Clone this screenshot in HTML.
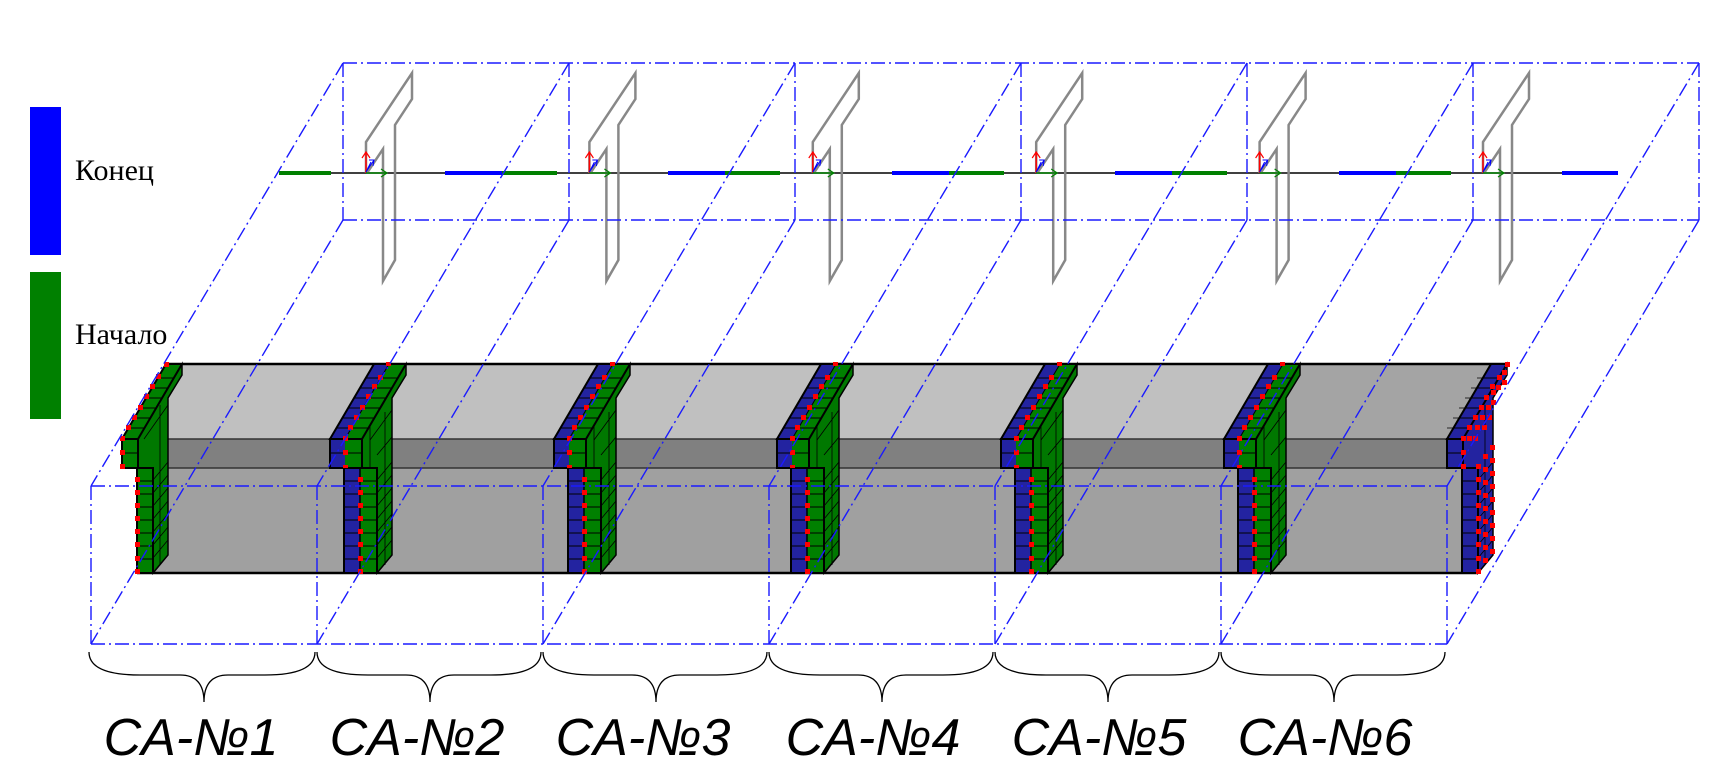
<!DOCTYPE html>
<html><head><meta charset="utf-8"><style>
html,body{margin:0;padding:0;background:#fff;width:1721px;height:765px;overflow:hidden}
svg{display:block}
</style></head><body>
<svg width="1721" height="765" viewBox="0 0 1721 765" xmlns="http://www.w3.org/2000/svg" xmlns:xlink="http://www.w3.org/1999/xlink">
<defs>
 <g id="stM">
  <polygon points="32,439 76,364 76,375 62,398 62,555 47,573 47,468 32,468" fill="#007800" stroke="#000" stroke-width="1.5"/>
  <g stroke="#000" stroke-width="0.8" fill="none">
   <line x1="40" y1="468" x2="40" y2="425"/><line x1="55" y1="565" x2="55" y2="412"/>
   <path d="M47,480 L62,462 M47,493 L62,475 M47,506 L62,488 M47,519 L62,501 M47,532 L62,514 M47,545 L62,527 M47,558 L62,540 M47,455 L62,437 M40,440 L62,410"/>
  </g>
  <polygon points="0,439 15,439 59,364 44,364" fill="#2323a0"/>
  <polygon points="15,439 32,439 76,364 59,364" fill="#008000"/>
  <g stroke="#000" stroke-width="1" fill="none">
   <path d="M6.5,428 L38.5,428 M12.4,418 L44.4,418 M18.2,408 L50.2,408 M24,398 L56,398 M29.9,388 L61.9,388 M35.8,378 L67.8,378"/>
   <line x1="15" y1="439" x2="59" y2="364"/>
  </g>
  <polygon points="0,439 32,439 76,364 44,364" fill="none" stroke="#000" stroke-width="2"/>
  <rect x="0" y="439" width="15" height="29" fill="#2323a0"/>
  <rect x="15" y="439" width="17" height="29" fill="#008000"/>
  <line x1="0" y1="453" x2="32" y2="453" stroke="#000" stroke-width="1"/>
  <rect x="0" y="439" width="32" height="29" fill="none" stroke="#000" stroke-width="2"/>
  <rect x="14" y="468" width="16" height="105" fill="#2323a0"/>
  <rect x="30" y="468" width="17" height="105" fill="#008000"/>
  <path d="M14,481 H47 M14,494 H47 M14,507 H47 M14,520 H47 M14,533 H47 M14,546 H47 M14,559 H47" stroke="#000" stroke-width="1"/>
  <rect x="14" y="468" width="33" height="105" fill="none" stroke="#000" stroke-width="2"/>
  <line x1="30" y1="468" x2="30" y2="573" stroke="#000" stroke-width="1.5"/>
  <g fill="#f00">
   <rect x="28" y="477" width="5" height="5"/><rect x="28" y="490" width="5" height="5"/><rect x="28" y="503" width="5" height="5"/><rect x="28" y="516" width="5" height="5"/><rect x="28" y="529" width="5" height="5"/><rect x="28" y="542" width="5" height="5"/><rect x="28" y="556" width="5" height="5"/><rect x="28" y="569" width="5" height="5"/>
   <rect x="13" y="450" width="5" height="5"/><rect x="13" y="436" width="5" height="5"/><rect x="13" y="465" width="5" height="3"/>
   <rect x="18" y="425" width="5" height="5"/><rect x="24" y="415" width="5" height="5"/><rect x="30" y="405" width="5" height="5"/><rect x="36" y="394" width="5" height="5"/><rect x="42" y="384" width="5" height="5"/><rect x="48" y="375" width="5" height="5"/><rect x="56" y="362" width="5" height="4"/>
  </g>
 </g>
 <!-- first stiffener (single green layer) -->
 <g id="stF">
  <polygon points="16,439 60,364 60,375 46,398 46,555 31,573 31,468 16,468" fill="#007800" stroke="#000" stroke-width="1.5"/>
  <path d="M31,480 L46,462 M31,493 L46,475 M31,506 L46,488 M31,519 L46,501 M31,532 L46,514 M31,545 L46,527 M31,558 L46,540 M38,565 V405 M22,439 L46,405" stroke="#000" stroke-width="0.8" fill="none"/>
  <polygon points="0,439 16,439 60,364 44,364" fill="#008000" stroke="#000" stroke-width="2"/>
  <path d="M6.5,428 L22.5,428 M12.4,418 L28.4,418 M18.2,408 L34.2,408 M24,398 L40,398 M29.9,388 L45.9,388 M35.8,378 L51.8,378" stroke="#000" stroke-width="1"/>
  <rect x="0" y="439" width="16" height="29" fill="#008000" stroke="#000" stroke-width="2"/>
  <line x1="0" y1="453" x2="16" y2="453" stroke="#000"/>
  <rect x="15" y="468" width="16" height="105" fill="#008000"/>
  <path d="M15,481 H31 M15,494 H31 M15,507 H31 M15,520 H31 M15,533 H31 M15,546 H31 M15,559 H31" stroke="#000" stroke-width="1"/>
  <rect x="15" y="468" width="16" height="105" fill="none" stroke="#000" stroke-width="2"/>
  <g fill="#f00">
   <rect x="13" y="477" width="5" height="5"/><rect x="13" y="490" width="5" height="5"/><rect x="13" y="503" width="5" height="5"/><rect x="13" y="516" width="5" height="5"/><rect x="13" y="529" width="5" height="5"/><rect x="13" y="542" width="5" height="5"/><rect x="13" y="556" width="5" height="5"/><rect x="13" y="569" width="5" height="5"/>
   <rect x="-2" y="450" width="5" height="5"/><rect x="-2" y="436" width="5" height="5"/><rect x="-2" y="464" width="5" height="5"/>
   <rect x="4" y="425" width="5" height="5"/><rect x="10" y="415" width="5" height="5"/><rect x="16" y="405" width="5" height="5"/><rect x="22" y="394" width="5" height="5"/><rect x="28" y="384" width="5" height="5"/><rect x="34" y="374" width="5" height="5"/><rect x="42" y="362" width="5" height="5"/>
  </g>
 </g>
 <g id="stL">
  <polygon points="16,439 60,364 60,375 46,398 46,555 31,573 31,468 16,468" fill="#2323a0" stroke="#000" stroke-width="1.5"/>
  <path d="M0,428 L22,428 M6,418 L28,418 M12,408 L34,408 M18,398 L40,398 M24,388 L46,388 M30,378 L52,378 M31,480 L46,462 M31,493 L46,475 M31,506 L46,488 M31,519 L46,501 M31,532 L46,514 M31,545 L46,527 M31,558 L46,540 M38,565 V405" stroke="#000" stroke-width="0.8" fill="none"/>
  <polygon points="0,439 16,439 60,364 44,364" fill="#2323a0" stroke="#000" stroke-width="2"/>
  <path d="M6.5,428 L22.5,428 M12.4,418 L28.4,418 M18.2,408 L34.2,408 M24,398 L40,398 M29.9,388 L45.9,388 M35.8,378 L51.8,378" stroke="#000" stroke-width="1"/>
  <rect x="0" y="439" width="16" height="29" fill="#2323a0" stroke="#000" stroke-width="2"/>
  <line x1="0" y1="453" x2="16" y2="453" stroke="#000"/>
  <rect x="15" y="468" width="16" height="105" fill="#2323a0"/>
  <path d="M15,481 H31 M15,494 H31 M15,507 H31 M15,520 H31 M15,533 H31 M15,546 H31 M15,559 H31" stroke="#000" stroke-width="1"/>
  <rect x="15" y="468" width="16" height="105" fill="none" stroke="#000" stroke-width="2"/>
  <g fill="#f00">
   <rect x="29" y="464" width="5" height="5"/><rect x="29" y="477" width="5" height="5"/><rect x="29" y="490" width="5" height="5"/><rect x="29" y="503" width="5" height="5"/><rect x="29" y="516" width="5" height="5"/><rect x="29" y="529" width="5" height="5"/><rect x="29" y="542" width="5" height="5"/><rect x="29" y="556" width="5" height="5"/><rect x="29" y="569" width="5" height="5"/>
   <rect x="36" y="454" width="5" height="5"/><rect x="36" y="467" width="5" height="5"/><rect x="36" y="480" width="5" height="5"/><rect x="36" y="493" width="5" height="5"/><rect x="36" y="506" width="5" height="5"/><rect x="36" y="519" width="5" height="5"/><rect x="36" y="532" width="5" height="5"/><rect x="36" y="545" width="5" height="5"/><rect x="36" y="558" width="5" height="5"/>
   <rect x="43" y="445" width="5" height="5"/><rect x="43" y="458" width="5" height="5"/><rect x="43" y="471" width="5" height="5"/><rect x="43" y="484" width="5" height="5"/><rect x="43" y="497" width="5" height="5"/><rect x="43" y="510" width="5" height="5"/><rect x="43" y="523" width="5" height="5"/><rect x="43" y="536" width="5" height="5"/><rect x="43" y="549" width="5" height="5"/>
   <rect x="14" y="436" width="5" height="5"/><rect x="14" y="450" width="5" height="5"/><rect x="20" y="436" width="5" height="5"/><rect x="26" y="436" width="5" height="5"/><rect x="14" y="464" width="5" height="5"/>
   <rect x="20" y="425" width="5" height="5"/><rect x="28" y="425" width="5" height="5"/><rect x="35" y="425" width="5" height="5"/>
   <rect x="26" y="415" width="5" height="5"/><rect x="33" y="415" width="5" height="5"/><rect x="40" y="415" width="5" height="5"/>
   <rect x="32" y="405" width="5" height="5"/><rect x="39" y="405" width="5" height="5"/><rect x="44" y="400" width="5" height="5"/>
   <rect x="37" y="395" width="5" height="5"/><rect x="44" y="390" width="5" height="5"/><rect x="49" y="385" width="5" height="5"/>
   <rect x="43" y="384" width="5" height="5"/><rect x="50" y="375" width="5" height="5"/><rect x="55" y="380" width="5" height="5"/><rect x="55" y="370" width="5" height="5"/><rect x="58" y="362" width="5" height="5"/>
  </g>
 </g>
 <g id="prof">
  <polyline points="366,173 366,142 412,73 412,99 395,125 395,260 383,281 383,149 367,173" fill="none" stroke="#888" stroke-width="2.5" stroke-linejoin="miter"/>
  <line x1="366" y1="173" x2="366" y2="153" stroke="#f00" stroke-width="1.5"/>
  <path d="M362,158 L366,152 L370,158" fill="none" stroke="#f00" stroke-width="1.2"/>
  <line x1="366" y1="173" x2="387" y2="173" stroke="#008000" stroke-width="1.5"/>
  <path d="M381,169 L387,173 L381,177" fill="none" stroke="#008000" stroke-width="1.2"/>
  <path d="M366,172 L374,160 M369,160 L374,160 L373,166 M366,172 L371,162" fill="none" stroke="#00f" stroke-width="1"/>
 </g>
</defs>

<rect x="30" y="107" width="31" height="148" fill="#0000ff"/>
<rect x="30" y="272" width="31" height="147" fill="#008000"/>
<text x="75" y="180" font-family="Liberation Serif, serif" font-size="30" fill="#000">Конец</text>
<text x="75" y="344" font-family="Liberation Serif, serif" font-size="30" fill="#000">Начало</text>

<line x1="279" y1="173" x2="1618" y2="173" stroke="#000" stroke-width="1.5"/>
<g stroke-width="4">
 <line x1="279" y1="173" x2="331" y2="173" stroke="#008000"/>
 <line x1="445" y1="173" x2="502" y2="173" stroke="#0000ff"/><line x1="502" y1="173" x2="557" y2="173" stroke="#008000"/>
 <line x1="668" y1="173" x2="725" y2="173" stroke="#0000ff"/><line x1="725" y1="173" x2="780" y2="173" stroke="#008000"/>
 <line x1="892" y1="173" x2="949" y2="173" stroke="#0000ff"/><line x1="949" y1="173" x2="1004" y2="173" stroke="#008000"/>
 <line x1="1115" y1="173" x2="1172" y2="173" stroke="#0000ff"/><line x1="1172" y1="173" x2="1227" y2="173" stroke="#008000"/>
 <line x1="1339" y1="173" x2="1396" y2="173" stroke="#0000ff"/><line x1="1396" y1="173" x2="1451" y2="173" stroke="#008000"/>
 <line x1="1562" y1="173" x2="1618" y2="173" stroke="#0000ff"/>
</g>
<use xlink:href="#prof" x="0"/>
<use xlink:href="#prof" x="223.4"/>
<use xlink:href="#prof" x="446.8"/>
<use xlink:href="#prof" x="670.2"/>
<use xlink:href="#prof" x="893.6"/>
<use xlink:href="#prof" x="1117"/>

<polygon points="167,364 1507,364 1462,439 122,439" fill="#c0c0c0"/>
<polygon points="1268,364 1507,364 1462,439 1224,439" fill="#a4a4a4"/>
<rect x="122" y="439" width="1330" height="29" fill="#808080"/>
<rect x="137" y="468" width="1341" height="105" fill="#a0a0a0"/>
<line x1="167" y1="364" x2="1507" y2="364" stroke="#000" stroke-width="2.5"/>
<line x1="122" y1="439" x2="1462" y2="439" stroke="#333" stroke-width="1.5"/>
<line x1="122" y1="468" x2="1462" y2="468" stroke="#333" stroke-width="1.5"/>
<line x1="137" y1="573" x2="1478" y2="573" stroke="#000" stroke-width="2.5"/>

<use xlink:href="#stF" x="122"/>
<use xlink:href="#stM" x="330"/>
<use xlink:href="#stM" x="554"/>
<use xlink:href="#stM" x="777"/>
<use xlink:href="#stM" x="1001"/>
<use xlink:href="#stM" x="1224"/>
<use xlink:href="#stL" x="1447"/>

<g fill="none" stroke="#1a1aff" stroke-width="1.4" stroke-dasharray="14 4 2 4">
 <line x1="343" y1="63" x2="1699" y2="63"/>
 <line x1="343" y1="220" x2="1699" y2="220"/>
 <line x1="91" y1="486" x2="1447" y2="486"/>
 <line x1="91" y1="644" x2="1447" y2="644"/>
 <path d="M343,63V220 M569,63V220 M795,63V220 M1021,63V220 M1247,63V220 M1473,63V220 M1699,63V220"/>
 <path d="M91,486V644 M317,486V644 M543,486V644 M769,486V644 M995,486V644 M1221,486V644 M1447,486V644"/>
 <path d="M343,63L91,486 M569,63L317,486 M795,63L543,486 M1021,63L769,486 M1247,63L995,486 M1473,63L1221,486 M1699,63L1447,486"/>
 <path d="M343,220L91,644 M569,220L317,644 M795,220L543,644 M1021,220L769,644 M1247,220L995,644 M1473,220L1221,644 M1699,220L1447,644"/>
</g>

<g fill="none" stroke="#000" stroke-width="1.3">
 <path d="M89,652 Q89,675 140,675 L180,675 Q204,675 204,702 Q204,675 228,675 L265,675 Q315,675 315,652"/>
 <path d="M317,652 Q317,675 368,675 L406,675 Q430,675 430,702 Q430,675 454,675 L491,675 Q541,675 541,652"/>
 <path d="M543,652 Q543,675 594,675 L632,675 Q656,675 656,702 Q656,675 680,675 L717,675 Q767,675 767,652"/>
 <path d="M769,652 Q769,675 820,675 L858,675 Q882,675 882,702 Q882,675 906,675 L943,675 Q993,675 993,652"/>
 <path d="M995,652 Q995,675 1046,675 L1084,675 Q1108,675 1108,702 Q1108,675 1132,675 L1169,675 Q1219,675 1219,652"/>
 <path d="M1221,652 Q1221,675 1272,675 L1310,675 Q1334,675 1334,702 Q1334,675 1358,675 L1395,675 Q1445,675 1445,652"/>
</g>
<g font-family="Liberation Sans, sans-serif" font-style="italic" font-size="52" fill="#000" text-anchor="middle">
 <text x="191" y="755">CA-№1</text>
 <text x="417" y="755">CA-№2</text>
 <text x="643" y="755">CA-№3</text>
 <text x="873" y="755">CA-№4</text>
 <text x="1099" y="755">CA-№5</text>
 <text x="1325" y="755">CA-№6</text>
</g>
</svg>
</body></html>
